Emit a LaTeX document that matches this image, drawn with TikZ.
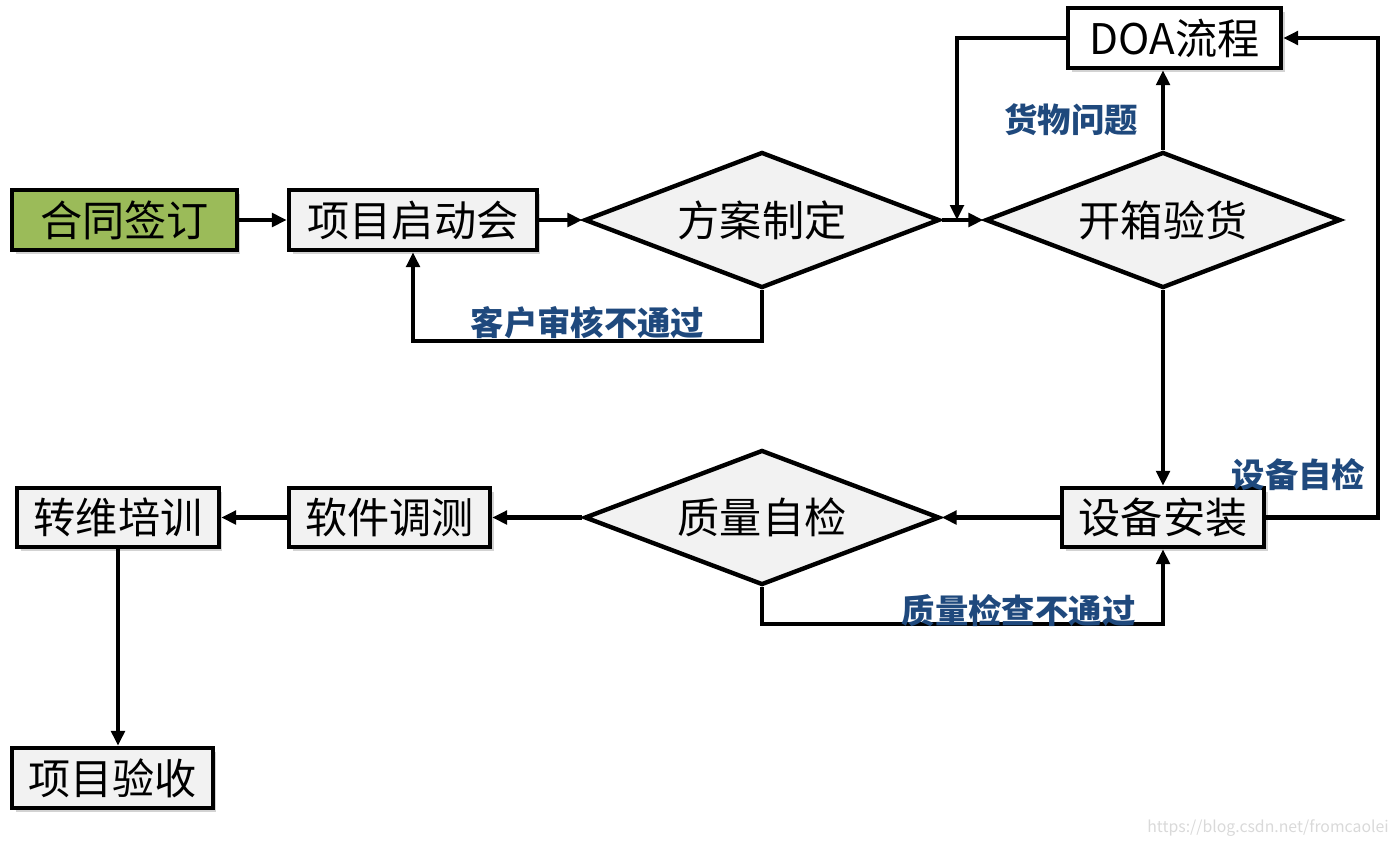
\documentclass[tikz,border=0pt]{standalone}
\usepackage{fontspec}
\setmainfont{Noto Sans CJK SC}
\usepackage{xcolor}
\usepackage{tikz}
\usetikzlibrary{shapes.geometric,arrows.meta,shadows}
\definecolor{startgreen}{HTML}{9BBB59}
\definecolor{boxgray}{HTML}{F2F2F2}
\definecolor{labblue}{HTML}{1F497D}

\begin{document}
\begin{tikzpicture}[
  x=0.02cm,y=-0.02cm,
  >={Triangle[length=3mm,width=2.7mm]},
  box/.style={draw,line width=2.5pt,fill=boxgray,minimum height=1.2cm,minimum width=#1,inner sep=0pt,font=\fontsize{24}{28}\selectfont,drop shadow={shadow xshift=2pt,shadow yshift=-2.5pt,opacity=.35}},
  start/.style={box=#1,fill=startgreen},
  dec/.style={diamond,draw,line width=2.5pt,fill=boxgray,aspect=2.6,inner sep=0pt,minimum width=7.1cm,minimum height=2.72cm,font=\fontsize{24}{28}\selectfont},
  flow/.style={->,line width=2.5pt},
  lab/.style={font=\fontsize{19}{22}\selectfont\bfseries,text=labblue,inner sep=2pt}
]
\useasboundingbox (0,0) rectangle (1388,845);
\node[start=4.5cm] (sign) at (124.5,220) {合同签订};
\node[box=4.96cm] (kick) at (413,220) {项目启动会};
\node[dec] (plan) at (762,220) {方案制定};
\node[dec] (check) at (1163,220) {开箱验货};
\node[box=4.26cm,fill=white] (doa) at (1174.5,38) {DOA流程};
\node[box=4.04cm,minimum height=1.18cm] (inst) at (1163,517.5) {设备安装};
\node[dec,minimum height=2.7cm] (qc) at (762,517.5) {质量自检};
\node[box=4.02cm,minimum height=1.18cm] (soft) at (389.5,517.5) {软件调测};
\node[box=4.04cm,minimum height=1.18cm] (train) at (118,517.5) {转维培训};
\node[box=4.02cm] (accept) at (112.5,778) {项目验收};
\coordinate (doaret) at (957,220);
\coordinate (rgt) at (1378,0);
\draw[flow] (sign) -- (kick);
\draw[flow] (kick) -- (plan);
\draw[flow] (plan) -- (check);
\draw[flow] (plan.south) -- ++(0,51) -| node[lab,above,pos=0.25,yshift=-2pt] (nopass) {客户审核不通过} (kick.south);
\draw[flow] (check.north) -- node[lab,left,pos=0.38,xshift=-11pt] (goods) {货物问题} (check.north |- doa.south);
\draw[flow] (doa.west) -| (doaret);
\draw[flow] (check.south) -- (inst.north);
\draw[flow] (inst.east) -- node[lab,pos=1,anchor=south east,xshift=-4pt,yshift=12pt] (selfchk) {设备自检} (inst.east -| rgt) |- (doa.east);
\draw[flow] (inst) -- (qc);
\draw[flow] (qc.south) -- ++(0,37) -| node[lab,above,pos=0.32,yshift=-5pt] (qcfail) {质量检查不通过} (inst.south);
\draw[flow] (qc) -- (soft);
\draw[flow] (soft) -- (train);
\draw[flow] (train.south) -- (train.south |- accept.north);
\node[text=gray!30,font=\fontsize{9}{11}\selectfont] (wm) at (1268,828) {https://blog.csdn.net/fromcaolei};
\end{tikzpicture}
\end{document}
